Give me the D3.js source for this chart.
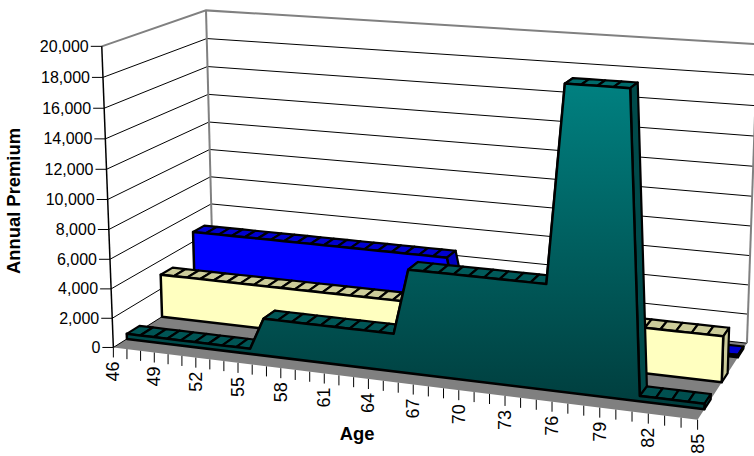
<!DOCTYPE html>
<html>
<head>
<meta charset="utf-8">
<script src="https://cdn.jsdelivr.net/npm/d3@7"></script>
<style>
  body { margin: 0; background: #fff; }
  svg { display: block; }
  text { font-family: "Liberation Sans", Arial, sans-serif; fill: #000; }
</style>
</head>
<body>
<div id="chart"></div>
<script>
const width = 754, height = 456;

const ages = d3.range(46, 86);
const ageLabels = [46, 49, 52, 55, 58, 61, 64, 67, 70, 73, 76, 79, 82, 85];
const valueTicks = [0, 2000, 4000, 6000, 8000, 10000, 12000, 14000, 16000, 18000, 20000];
const seriesNames = ["front", "middle", "back"];

// one value per age
const frontValues = [350, 350, 350, 350, 350, 350, 350, 350, 350, 350,
  2500, 2500, 2500, 2500, 2500, 2500, 2500, 2500, 2500, 2500,
  6800, 6800, 6800, 6800, 6800, 6800, 6800, 6800, 6800, 6800,
  19300, 19300, 19300, 19300, 19300, 350, 350, 350, 350, 350];
const middleValues = [3000, 3000, 3000, 3000, 3000, 3000, 3000, 3000, 3000, 3000,
  3000, 3000, 3000, 3000, 3000, 3000, 3000, 3000, 3000, 3000,
  3000, 3000, 3000, 3000, 3000, 3000, 3000, 3000, 3000, 3000,
  3000, 3000, 3000, 3000, 3000, 3000, 3000, 3000, 3000, 3000];
const backValues = [4700, 4700, 4700, 4700, 4700, 4700, 4700, 4700, 4700, 4700,
  4700, 4700, 4700, 4700, 4700, 4700, 4700, 4700, 4700, 4700,
  150, 150, 150, 150, 150, 150, 150, 150, 150, 150,
  150, 150, 150, 150, 150, 150, 150, 150, 150, 150];

const svg = d3.select("#chart").append("svg")
  .attr("width", width)
  .attr("height", height);

const xScale = d3.scaleLinear().domain([46, 85]).range([0, 1]);
const zScale = d3.scaleLinear().domain([0, 20000]).range([0, 1]);
const depthScale = d3.scaleBand().domain(seriesNames).range([0, 1])
  .paddingInner(0.645).paddingOuter(0.3025).align(0.61);

// camera fit: box corners (age, depth, height) -> where they sit in the picture
const fit = [
  [0, 0, 0, 114, 347], [0, 0, 1, 101, 47], [1, 0, 0, 697, 420],
  [0, 1, 0, 213, 285], [0, 1, 1, 206.5, 10], [1, 1, 0, 748, 343], [1, 1, 1, 756, 44],
  [12 / 39, 0, 0, 281, 368], [27 / 39, 0, 0, 504, 396], [0, 0, 0.5, 107.5, 199],
  [30 / 39, 0.124, 0.965, 565, 84], [34 / 39, 0.124, 0.965, 632, 88]
];

function solveCamera(pts) {
  const rows = [];
  pts.forEach(([X, Y, Z, x, y]) => {
    rows.push([X, Y, Z, 1, 0, 0, 0, 0, -x * X, -x * Y, -x * Z, x]);
    rows.push([0, 0, 0, 0, X, Y, Z, 1, -y * X, -y * Y, -y * Z, y]);
  });
  const n = 11;
  const A = d3.range(n).map(i => d3.range(n + 1).map(j => d3.sum(rows, r => r[i] * r[j])));
  for (let c = 0; c < n; c++) {
    let best = c;
    for (let r = c + 1; r < n; r++) if (Math.abs(A[r][c]) > Math.abs(A[best][c])) best = r;
    [A[c], A[best]] = [A[best], A[c]];
    for (let r = 0; r < n; r++) {
      if (r === c) continue;
      const f = A[r][c] / A[c][c];
      for (let k = c; k <= n; k++) A[r][k] -= f * A[c][k];
    }
  }
  return d3.range(n).map(i => A[i][n] / A[i][i]);
}
const cam = solveCamera(fit);

function project(u, v, w) {
  const d = cam[8] * u + cam[9] * v + cam[10] * w + 1;
  return [
    (cam[0] * u + cam[1] * v + cam[2] * w + cam[3]) / d,
    (cam[4] * u + cam[5] * v + cam[6] * w + cam[7]) / d
  ];
}
const poly = pts => "M" + pts.map(p => p.map(n => n.toFixed(2)).join(",")).join("L") + "Z";
const line = pts => "M" + pts.map(p => p.map(n => n.toFixed(2)).join(",")).join("L");

// gradients for the front faces
const defs = svg.append("defs");
function gradient(id, y1, y2, c1, c2) {
  const g = defs.append("linearGradient").attr("id", id)
    .attr("gradientUnits", "userSpaceOnUse")
    .attr("x1", 0).attr("x2", 0).attr("y1", y1).attr("y2", y2);
  g.append("stop").attr("offset", 0).attr("stop-color", c1);
  g.append("stop").attr("offset", 1).attr("stop-color", c2);
}
gradient("tealFront", 85, 400, "#008080", "#003f3f");
gradient("tealTop", 85, 400, "#006a6a", "#004f4f");

// floor
svg.append("path")
  .attr("d", poly([project(0, 0, 0), project(1, 0, 0), project(1, 1, 0), project(0, 1, 0)]))
  .attr("fill", "#808080");

// gridlines on the two walls
const grid = svg.append("g");
valueTicks.forEach(t => {
  const w = zScale(t);
  const isTop = t === 20000;
  grid.append("path")
    .attr("d", line([project(0, 0, w), project(0, 1, w), project(1, 1, w)]))
    .attr("fill", "none")
    .attr("stroke", isTop ? "#808080" : "#000")
    .attr("stroke-width", isTop ? 2 : 1);
});
grid.append("path")
  .attr("d", line([project(0, 1, 0), project(0, 1, 1)]))
  .attr("fill", "none").attr("stroke", "#808080").attr("stroke-width", 2);
grid.append("path")
  .attr("d", line([project(1, 1, 0), project(1, 1, 1)]))
  .attr("fill", "none").attr("stroke", "#808080").attr("stroke-width", 2);

// ribbons, back to front
function ribbon(name, values, colors) {
  const d0 = depthScale(name);
  const d1 = d0 + depthScale.bandwidth();
  const g = svg.append("g");
  const front = ages.map((a, i) => project(xScale(a), d0, zScale(values[i])));
  const u = a => xScale(a);

  // top cells, including the slopes
  ages.slice(0, -1).forEach((a, i) => {
    const b = ages[i + 1];
    const z0 = zScale(values[i]), z1 = zScale(values[i + 1]);
    g.append("path")
      .attr("d", poly([project(u(a), d0, z0), project(u(b), d0, z1), project(u(b), d1, z1), project(u(a), d1, z0)]))
      .attr("fill", z1 < z0 ? colors.side : colors.top)
      .attr("stroke", "#000").attr("stroke-width", 2.2).attr("stroke-linejoin", "round");
  });

  // right end cap
  const last = ages.length - 1;
  g.append("path")
    .attr("d", poly([project(1, d0, 0), project(1, d1, 0), project(1, d1, zScale(values[last])), project(1, d0, zScale(values[last]))]))
    .attr("fill", colors.side)
    .attr("stroke", "#000").attr("stroke-width", 2.2).attr("stroke-linejoin", "round");

  // front face
  g.append("path")
    .attr("d", poly([project(0, d0, 0), ...front, project(1, d0, 0)]))
    .attr("fill", colors.front)
    .attr("stroke", "#000").attr("stroke-width", 2.5).attr("stroke-linejoin", "round");
}
ribbon("back", backValues, { front: "#0000ff", top: "#0000d0", side: "#0000c0" });
ribbon("middle", middleValues, { front: "#ffffc0", top: "#cccc9a", side: "#cccc9a" });
ribbon("front", frontValues, { front: "url(#tealFront)", top: "url(#tealTop)", side: "#004a4a" });

// left axis line
svg.append("path")
  .attr("d", line([project(0, 0, 0), project(0, 0, 1)]))
  .attr("fill", "none").attr("stroke", "#000").attr("stroke-width", 1.5);

// value axis
valueTicks.forEach(t => {
  const [x, y] = project(0, 0, zScale(t));
  svg.append("line").attr("x1", x - 11).attr("x2", x).attr("y1", y).attr("y2", y)
    .attr("stroke", "#000").attr("stroke-width", 1);
  svg.append("text").attr("x", x - 13).attr("y", y + 5.5)
    .attr("text-anchor", "end").attr("font-size", 16)
    .text(d3.format(",")(t));
});

// age axis
ages.forEach(a => {
  const [x, y] = project(xScale(a), 0, 0);
  svg.append("line").attr("x1", x).attr("x2", x).attr("y1", y).attr("y2", y + 10)
    .attr("stroke", "#000").attr("stroke-width", 1);
});
ageLabels.forEach(a => {
  const [x, y] = project(xScale(a), 0, 0);
  svg.append("text")
    .attr("transform", `translate(${x + 6},${y + 14}) rotate(-90)`)
    .attr("text-anchor", "end").attr("font-size", 18)
    .text(a);
});

// axis titles
svg.append("text").attr("x", 357).attr("y", 440)
  .attr("text-anchor", "middle").attr("font-size", 18.4).attr("font-weight", "bold")
  .text("Age");
svg.append("text")
  .attr("transform", "translate(20,201) rotate(-90)")
  .attr("text-anchor", "middle").attr("font-size", 18.4).attr("font-weight", "bold")
  .text("Annual Premium");
</script>
</body>
</html>
